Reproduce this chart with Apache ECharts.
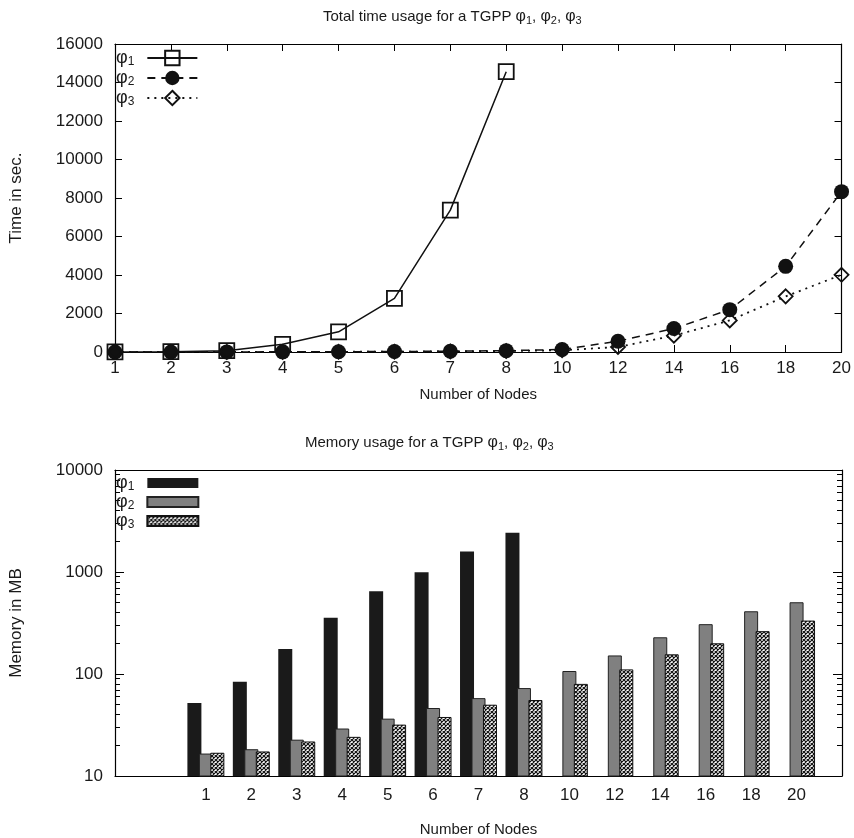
<!DOCTYPE html>
<html><head><meta charset="utf-8">
<script src="https://cdn.jsdelivr.net/npm/echarts@6/dist/echarts.min.js"></script>
<style>html,body{margin:0;padding:0;background:#fff}#c{width:854px;height:838px}</style>
</head><body><div id="c"></div>
<script>
// ---- Data ----
const timeCategories = ['1','2','3','4','5','6','7','8','10','12','14','16','18','20'];
const timePhi1 = [3, 15, 70, 400, 1050, 2790, 7370, 14560, null, null, null, null, null, null];
const timePhi2 = [1, 2, 4, 8, 15, 25, 40, 70, 130, 560, 1220, 2200, 4450, 8330];
const timePhi3 = [1, 2, 3, 6, 10, 18, 30, 50, 90, 260, 850, 1640, 2890, 4010];

const memCategories = ['1','2','3','4','5','6','7','8','10','12','14','16','18','20'];
const memPhi1 = [52, 84, 176, 357, 646, 995, 1585, 2430, null, null, null, null, null, null];
const memPhi2 = [16.6, 18.3, 22.7, 29.2, 36.5, 46.4, 58, 72.8, 107, 152, 229, 308, 412, 505];
const memPhi3 = [16.9, 17.4, 21.8, 24.2, 31.9, 37.9, 50, 55.6, 80, 111, 156, 200, 263, 334];
const memMinorTicks = [20,30,40,50,60,70,80,90,200,300,400,500,600,700,800,900,2000,3000,4000,5000,6000,7000,8000,9000];

const FONT = 'Liberation Sans';
const TXT = '#1a1a1a';

// crosshatch pattern
const cv = document.createElement('canvas');
cv.width = 4; cv.height = 4;
const cx = cv.getContext('2d');
cx.fillStyle = '#fff'; cx.fillRect(0,0,4,4);
cx.strokeStyle = '#111'; cx.lineWidth = 1.2;
cx.beginPath();
cx.moveTo(-1,-1); cx.lineTo(5,5);
cx.moveTo(5,-1); cx.lineTo(-1,5);
cx.stroke();
const hatch = {image: cv, repeat: 'repeat'};

const rich = {
  t: {fontFamily: FONT, fontSize: 15, fontWeight: 'normal', color: TXT},
  p: {fontFamily: FONT, fontSize: 16, fontWeight: 'normal', color: TXT},
  s: {fontFamily: FONT, fontSize: 11, fontWeight: 'normal', color: TXT, padding: [7,0,0,0]}
};
const legRich = {
  p: {fontFamily: FONT, fontSize: 18, fontWeight: 'normal', color: TXT},
  s: {fontFamily: FONT, fontSize: 12, fontWeight: 'normal', color: TXT, padding: [8,0,0,0]},
  g: {width: 8}
};
function phi(n){ return '{p|φ}{s|' + n + '}'; }
function legPhi(n){ return '{p|φ}{s|' + n + '}{g|}'; }

const memCatsPadded = ['', ''].concat(memCategories, ['']);
function pad(a){ return [null, null].concat(a, [null]); }
const minorLog = memMinorTicks.map(v => Math.log10(v));

const tickStyle = {show: true, inside: true, length: 7, lineStyle: {color: '#000', width: 1}};
const majorLogTick = {show: true, inside: true, length: 9, lineStyle: {color: '#000', width: 1}};
const minorLogTick = {show: true, inside: true, length: 5, customValues: minorLog, lineStyle: {color: '#000', width: 1}};
const lineAx = {show: true, onZero: false, lineStyle: {color: '#000', width: 1.2}};
const lblStyle = {fontFamily: FONT, fontSize: 17, color: TXT};
const plain = v => String(v);

const chart = echarts.init(document.getElementById('c'), null, {renderer: 'canvas'});
chart.setOption({
  backgroundColor: '#fff',
  animation: false,
  title: [
    {text: '{t|Total time usage for a TGPP }' + phi(1) + '{t|, }' + phi(2) + '{t|, }' + phi(3),
     left: 318, top: 3, textStyle: {fontWeight: 'normal', rich: rich}},
    {text: '{t|Memory usage for a TGPP }' + phi(1) + '{t|, }' + phi(2) + '{t|, }' + phi(3),
     left: 300, top: 429, textStyle: {fontWeight: 'normal', rich: rich}}
  ],
  legend: [
    {data: ['t1','t2','t3'], orient: 'vertical', left: 116, top: 49, align: 'right',
     itemWidth: 50, itemHeight: 18, itemGap: 1, padding: 0,
     formatter: n => legPhi(n.slice(1)), textStyle: {rich: legRich}},
    {data: ['m1','m2','m3'], orient: 'vertical', left: 116, top: 474, align: 'right',
     itemWidth: 51, itemHeight: 10, itemGap: 0, icon: 'rect', padding: 0,
     formatter: n => legPhi(n.slice(1)), textStyle: {rich: legRich}}
  ],
  grid: [
    {left: 114, top: 44, width: 728, height: 308},
    {left: 114, top: 470, width: 728, height: 308}
  ],
  xAxis: [
    {type: 'category', gridIndex: 0, data: timeCategories, boundaryGap: false,
     axisLine: lineAx, axisTick: tickStyle, axisLabel: Object.assign({margin: 8}, lblStyle),
     name: 'Number of Nodes', nameLocation: 'middle', nameGap: 35,
     nameTextStyle: {fontFamily: FONT, fontSize: 15, color: TXT}},
    {type: 'category', gridIndex: 0, data: timeCategories, boundaryGap: false, position: 'top',
     axisLine: lineAx, axisTick: tickStyle, axisLabel: {show: false}},
    {type: 'category', gridIndex: 1, data: memCatsPadded, boundaryGap: false,
     axisLine: lineAx, axisTick: {show: false},
     axisLabel: Object.assign({margin: 11, interval: 0}, lblStyle),
     name: 'Number of Nodes', nameLocation: 'middle', nameGap: 46,
     nameTextStyle: {fontFamily: FONT, fontSize: 15, color: TXT}},
    {type: 'category', gridIndex: 1, data: memCatsPadded, boundaryGap: false, position: 'top',
     axisLine: lineAx, axisTick: {show: false}, axisLabel: {show: false}}
  ],
  yAxis: [
    {type: 'value', gridIndex: 0, min: 0, max: 16000, interval: 2000,
     axisLine: lineAx, axisTick: tickStyle, splitLine: {show: false},
     axisLabel: Object.assign({margin: 12, formatter: plain}, lblStyle),
     name: 'Time in sec.', nameLocation: 'middle', nameGap: 90,
     nameTextStyle: {fontFamily: FONT, fontSize: 17, color: TXT}},
    {type: 'value', gridIndex: 0, min: 0, max: 16000, interval: 2000, position: 'right',
     axisLine: lineAx, axisTick: tickStyle, splitLine: {show: false}, axisLabel: {show: false}},
    {type: 'log', logBase: 10, gridIndex: 1, min: 10, max: 10000,
     axisLine: lineAx, axisTick: majorLogTick, splitLine: {show: false},
     axisLabel: Object.assign({margin: 12, formatter: plain}, lblStyle),
     name: 'Memory in MB', nameLocation: 'middle', nameGap: 90,
     nameTextStyle: {fontFamily: FONT, fontSize: 17, color: TXT}},
    {type: 'log', logBase: 10, gridIndex: 1, min: 10, max: 10000, position: 'right',
     axisLine: lineAx, axisTick: majorLogTick, splitLine: {show: false},
     axisLabel: {show: false}},
    {type: 'value', gridIndex: 1, min: 1, max: 4, position: 'left',
     axisLine: {show: false, onZero: false}, splitLine: {show: false}, axisLabel: {show: false},
     axisTick: minorLogTick},
    {type: 'value', gridIndex: 1, min: 1, max: 4, position: 'right',
     axisLine: {show: false, onZero: false}, splitLine: {show: false}, axisLabel: {show: false},
     axisTick: minorLogTick}
  ],
  series: [
    {name: 't1', type: 'line', xAxisIndex: 0, yAxisIndex: 0, data: timePhi1,
     symbol: 'rect', symbolSize: 15, showAllSymbol: true,
     lineStyle: {color: '#111', width: 1.5, type: 'solid'},
     itemStyle: {color: 'rgba(255,255,255,0)', borderColor: '#111', borderWidth: 1.8}},
    {name: 't2', type: 'line', xAxisIndex: 0, yAxisIndex: 0, data: timePhi2,
     symbol: 'circle', symbolSize: 15, showAllSymbol: true,
     lineStyle: {color: '#111', width: 1.5, type: [8, 6]},
     itemStyle: {color: '#111', borderColor: '#111', borderWidth: 0}},
    {name: 't3', type: 'line', xAxisIndex: 0, yAxisIndex: 0, data: timePhi3,
     symbol: 'diamond', symbolSize: 14, showAllSymbol: true,
     lineStyle: {color: '#111', width: 1.8, type: [2, 5]},
     itemStyle: {color: 'rgba(255,255,255,0)', borderColor: '#111', borderWidth: 1.8}},
    {name: 'm1', type: 'bar', xAxisIndex: 2, yAxisIndex: 2, data: pad(memPhi1),
     barWidth: 14, barGap: '-18%',
     itemStyle: {color: '#1a1a1a', borderColor: '#1a1a1a', borderWidth: 0}},
    {name: 'm2', type: 'bar', xAxisIndex: 2, yAxisIndex: 2, data: pad(memPhi2),
     barWidth: 14, barGap: '-18%',
     itemStyle: {color: '#808080', borderColor: '#222', borderWidth: 1}},
    {name: 'm3', type: 'bar', xAxisIndex: 2, yAxisIndex: 2, data: pad(memPhi3),
     barWidth: 14, barGap: '-18%',
     itemStyle: {color: hatch, borderColor: '#111', borderWidth: 1}}
  ]
});
</script></body></html>
